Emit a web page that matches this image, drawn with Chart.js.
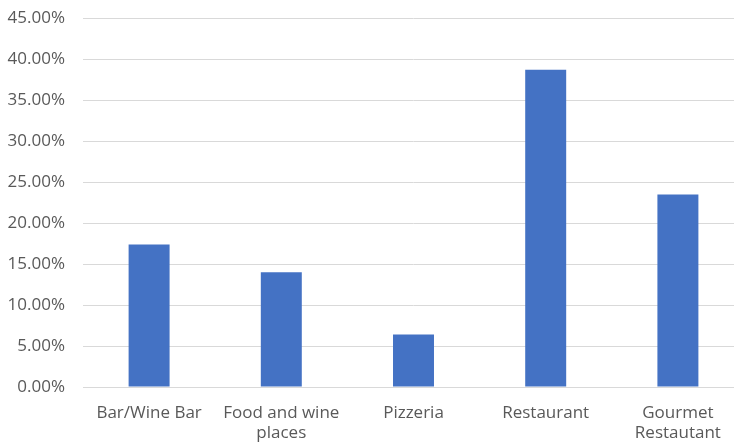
<!DOCTYPE html>
<html>
<head>
<meta charset="utf-8">
<script src="https://cdn.jsdelivr.net/npm/chart.js@4"></script>
<style>
  html, body { margin: 0; padding: 0; background: #fff; overflow: hidden; }
  #wrap { width: 748px; height: 456px; position: relative; margin-top: -10px; }
</style>
</head>
<body>
<div id="wrap"><canvas id="c"></canvas></div>
<script>
const categories = ["Bar/Wine Bar", ["Food and wine", "places"], "Pizzeria", "Restaurant", ["Gourmet", "Restautant"]];
const shares = [17.4, 14.0, 6.4, 38.7, 23.5];
const yMin = 0, yMax = 45, yStep = 5;

new Chart(document.getElementById('c'), {
  type: 'bar',
  data: {
    labels: categories,
    datasets: [{
      data: shares,
      backgroundColor: '#4472c4',
      borderWidth: 0,
      categoryPercentage: 1.0,
      barPercentage: 0.31
    }]
  },
  options: {
    responsive: true,
    maintainAspectRatio: false,
    animation: false,
    layout: { padding: { left: 7, top: -2, right: 4, bottom: 0 } },
    plugins: { legend: { display: false }, tooltip: { enabled: false } },
    scales: {
      x: {
        grid: { display: false, drawTicks: false },
        border: { display: true, color: '#d9d9d9', width: 1 },
        afterFit: s => { s.height = 59; },
        ticks: {
          color: '#595959',
          font: { family: 'Open Sans', size: 17 },
          padding: 16,
          maxRotation: 0,
          autoSkip: false
        }
      },
      y: {
        min: yMin, max: yMax,
        grid: { color: '#d9d9d9', lineWidth: 1, drawTicks: false },
        border: { display: false },
        afterFit: s => { s.width = 76; },
        ticks: {
          stepSize: yStep,
          color: '#595959',
          font: { family: 'Open Sans', size: 17 },
          padding: 18,
          callback: v => v.toFixed(2) + '%'
        }
      }
    }
  }
});
</script>
</body>
</html>
